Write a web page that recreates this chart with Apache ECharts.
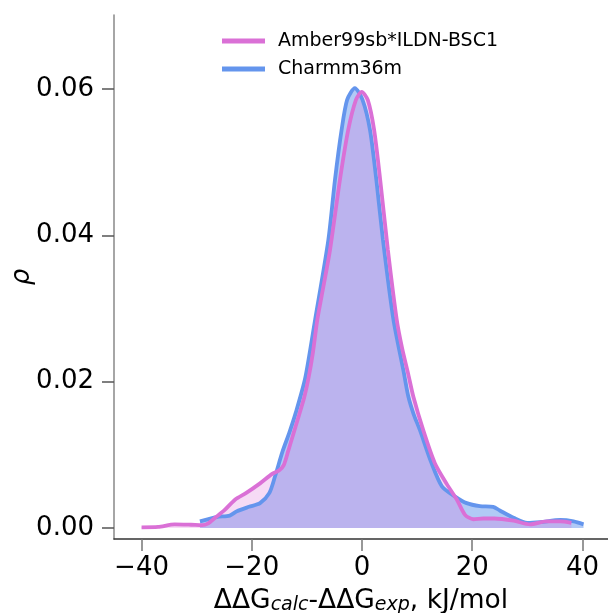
<!DOCTYPE html>
<html>
<head>
<meta charset="utf-8">
<script src="https://cdn.jsdelivr.net/npm/echarts@6/dist/echarts.min.js"></script>
<style>html,body{margin:0;padding:0;background:#fff}#c{width:608px;height:613px}</style>
</head>
<body>
<div id="c"></div>
<script>
// ---- data ----
const seriesNames = ['Amber99sb*ILDN-BSC1', 'Charmm36m'];
const xTicks = [-40, -20, 0, 20, 40];
const yTicks = [0, 0.02, 0.04, 0.06];

const amberX = [-40, -37, -34, -31, -29, -28, -26.5, -25, -23, -21, -18.5, -16.3, -15, -14.2, -13.4, -12.4, -11.4, -10.5, -9.7, -8.9, -8.1, -7, -5.8, -4.0, -2.5, -1.1, -0.05, 1.05, 2.2, 3.3, 4.7, 6.3, 7.3, 8.4, 9.3, 11.1, 13.2, 15.4, 17.2, 18.7, 20.2, 22, 24, 27.5, 30.5, 33.5, 36, 38];
const amberY = [0.0001, 0.00015, 0.0005, 0.00045, 0.0004, 0.0006, 0.0015, 0.0024, 0.0039, 0.0048, 0.0061, 0.0074, 0.0079, 0.0086, 0.0105, 0.0130, 0.0155, 0.0178, 0.0205, 0.0240, 0.0285, 0.0330, 0.0380, 0.0476, 0.0544, 0.0585, 0.0596, 0.0585, 0.0544, 0.0476, 0.0380, 0.0285, 0.0245, 0.0210, 0.0180, 0.0134, 0.0089, 0.0060, 0.0039, 0.0018, 0.0012, 0.0013, 0.0013, 0.0010, 0.0005, 0.0009, 0.0009, 0.0007];

const charmmX = [-29.4, -26.4, -24, -22.7, -20.5, -18.5, -16.8, -15.8, -14.4, -13.2, -12.0, -10.3, -8.5, -6.1, -4.9, -3.7, -2.7, -1.3, 0.1, 1.45, 2.6, 3.8, 5.7, 7.6, 8.4, 9.4, 10.5, 12.6, 14.5, 16.9, 19.0, 21.4, 23.8, 25, 27.5, 30, 32.3, 36, 38.4, 40.2];
const charmmY = [0.0009, 0.0015, 0.0017, 0.0023, 0.0029, 0.0034, 0.0048, 0.0070, 0.0105, 0.0130, 0.0158, 0.0205, 0.0285, 0.0394, 0.0476, 0.0544, 0.0585, 0.0601, 0.0585, 0.0544, 0.0476, 0.0394, 0.0285, 0.0212, 0.0180, 0.0155, 0.0134, 0.0089, 0.0057, 0.0043, 0.0034, 0.0030, 0.0029, 0.0024, 0.0014, 0.0007, 0.0008, 0.0011, 0.0009, 0.0005];

const FONT = 'DejaVu Sans';
const amberColor = '#DA70D6';
const charmmColor = '#6495ED';

const pairs = (xs, ys) => xs.map((x, i) => [x, ys[i]]);

const chart = echarts.init(document.getElementById('c'), null, {renderer: 'canvas'});
chart.setOption({
  backgroundColor: '#fff',
  animation: false,
  textStyle: {fontFamily: FONT},
  grid: {left: 114, right: 0, top: 15, bottom: 74, containLabel: false, outerBoundsMode: 'none'},
  legend: {
    data: seriesNames,
    orient: 'vertical',
    left: 217,
    top: 25,
    icon: 'rect',
    itemWidth: 43,
    itemHeight: 5,
    itemGap: 6,
    textStyle: {fontFamily: FONT, fontSize: 19, color: '#000', lineHeight: 22, padding: [0, 0, 0, 8]}
  },
  xAxis: {
    type: 'value',
    min: -45,
    max: 44.64,
    splitLine: {show: false},
    axisLine: {show: true, onZero: false, lineStyle: {color: '#333', width: 1.5}},
    axisTick: {show: true, customValues: xTicks, length: 12, lineStyle: {color: '#777', width: 1.5}},
    axisLabel: {
      customValues: xTicks, margin: 16, fontSize: 26, color: '#000', fontFamily: FONT,
      formatter: v => String(v).replace('-', '\u2212')
    },
    name: '{a|ΔΔG}{s|calc}{a|-ΔΔG}{s|exp}{a|, kJ/mol}',
    nameLocation: 'middle',
    nameGap: 44,
    nameMoveOverlap: false,
    nameTextStyle: {
      rich: {
        a: {fontSize: 26.5, fontFamily: FONT, color: '#000', lineHeight: 32, verticalAlign: 'bottom'},
        s: {fontSize: 19, fontFamily: FONT, fontStyle: 'italic', color: '#000', lineHeight: 17, verticalAlign: 'bottom'}
      }
    }
  },
  yAxis: {
    type: 'value',
    min: -0.0015,
    max: 0.0701,
    splitLine: {show: false},
    axisLine: {show: true, onZero: false, lineStyle: {color: '#888', width: 1.5}},
    axisTick: {show: true, customValues: yTicks, length: 12, lineStyle: {color: '#555', width: 1.5}},
    axisLabel: {
      customValues: yTicks, margin: 20, fontSize: 26, color: '#000', fontFamily: FONT,
      formatter: v => v.toFixed(2)
    },
    name: 'ρ',
    nameLocation: 'middle',
    nameRotate: 90,
    nameGap: 79,
    nameMoveOverlap: false,
    nameTextStyle: {fontSize: 26, fontStyle: 'italic', fontFamily: FONT, color: '#000'}
  },
  series: [
    {
      name: seriesNames[1],
      type: 'line',
      data: pairs(charmmX, charmmY),
      smooth: 0.25,
      showSymbol: false,
      color: charmmColor,
      lineStyle: {color: charmmColor, width: 3.8},
      areaStyle: {color: 'rgba(100,149,237,0.5)', opacity: 1}
    },
    {
      name: seriesNames[0],
      type: 'line',
      data: pairs(amberX, amberY),
      smooth: 0.25,
      showSymbol: false,
      color: amberColor,
      lineStyle: {color: amberColor, width: 3.8},
      areaStyle: {color: 'rgba(218,112,214,0.25)', opacity: 1}
    }
  ]
});
</script>
</body>
</html>
